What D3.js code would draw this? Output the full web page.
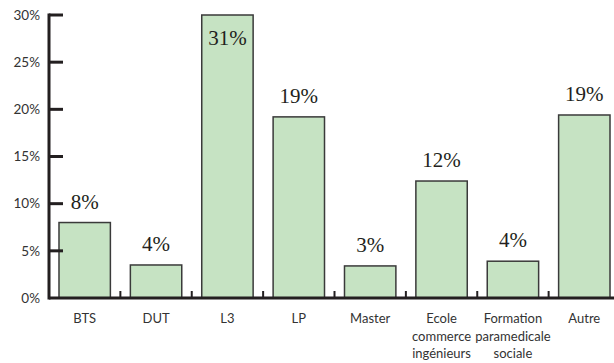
<!DOCTYPE html>
<html>
<head>
<meta charset="utf-8">
<script src="https://cdn.jsdelivr.net/npm/d3@7"></script>
<style>
  html, body { margin: 0; padding: 0; background: #fff; }
  svg { display: block; }
</style>
</head>
<body>
<svg id="chart" width="614" height="363"></svg>
<script>
// Share of students by programme (%)
const categories = ["BTS", "DUT", "L3", "LP", "Master", "Ecole\ncommerce\ningénieurs", "Formation\nparamedicale\nsociale", "Autre"];
const shares = [8.0, 3.5, 31, 19.2, 3.4, 12.4, 3.9, 19.4];
const yTicks = [0, 5, 10, 15, 20, 25, 30];

const svg = d3.select("#chart");
const axisColor = "#231f20";
const sans = "Lato, 'Noto Sans', sans-serif";

const x = d3.scaleBand()
  .domain(categories)
  .range([49, 620])
  .paddingInner(0.28)
  .paddingOuter(0.14);

const y = d3.scaleLinear()
  .domain([0, 30])
  .range([298, 15])
  .clamp(true);

// bars
svg.append("g")
  .selectAll("rect")
  .data(shares)
  .join("rect")
  .attr("x", (d, i) => x(categories[i]))
  .attr("y", d => y(d))
  .attr("width", x.bandwidth())
  .attr("height", d => y(0) - y(d))
  .attr("fill", "#c6e3c3")
  .attr("stroke", "#3a3a3a")
  .attr("stroke-width", 1.5);

// value labels (inside the bar when it runs past the top of the scale)
svg.append("g")
  .selectAll("text")
  .data(shares)
  .join("text")
  .attr("x", (d, i) => x(categories[i]) + x.bandwidth() / 2)
  .attr("y", d => d > y.domain()[1] ? y(d) + 30 : y(d) - 14)
  .attr("text-anchor", "middle")
  .attr("font-family", "'Liberation Serif', 'Times New Roman', serif")
  .attr("font-size", 21)
  .attr("fill", "#231f20")
  .text(d => Math.round(d) + "%");

// y axis
const yAxis = svg.append("g");
yAxis.append("line")
  .attr("x1", 49).attr("x2", 49)
  .attr("y1", y(30) - 1.5).attr("y2", y(0) + 1.5)
  .attr("stroke", axisColor).attr("stroke-width", 3);
yAxis.selectAll("line.tick")
  .data(yTicks.filter(t => t > 0))
  .join("line")
  .attr("class", "tick")
  .attr("x1", 49).attr("x2", 63)
  .attr("y1", d => y(d)).attr("y2", d => y(d))
  .attr("stroke", axisColor).attr("stroke-width", 3);
yAxis.selectAll("text")
  .data(yTicks)
  .join("text")
  .attr("x", 40)
  .attr("y", d => y(d))
  .attr("dy", "0.35em")
  .attr("text-anchor", "end")
  .attr("font-family", sans)
  .attr("font-size", 13.5)
  .attr("fill", "#333")
  .text(d => d + "%");

// x axis
const xAxis = svg.append("g");
xAxis.append("line")
  .attr("x1", 49).attr("x2", 614)
  .attr("y1", y(0)).attr("y2", y(0))
  .attr("stroke", axisColor).attr("stroke-width", 3);
const step = x.step();
xAxis.selectAll("line.tick")
  .data(categories.slice(1))
  .join("line")
  .attr("class", "tick")
  .attr("x1", d => x(d) - step * x.paddingInner() / 2)
  .attr("x2", d => x(d) - step * x.paddingInner() / 2)
  .attr("y1", y(0)).attr("y2", y(0) - 7)
  .attr("stroke", axisColor).attr("stroke-width", 2);
xAxis.selectAll("text")
  .data(categories)
  .join("text")
  .attr("x", d => x(d) + x.bandwidth() / 2)
  .attr("y", 323)
  .attr("text-anchor", "middle")
  .attr("font-family", sans)
  .attr("font-size", 13)
  .attr("fill", "#333")
  .each(function(d) {
    const t = d3.select(this);
    d.split("\n").forEach((line, i) => {
      t.append("tspan")
        .attr("x", x(d) + x.bandwidth() / 2)
        .attr("dy", i === 0 ? 0 : 17.5)
        .text(line);
    });
  });
</script>
</body>
</html>
